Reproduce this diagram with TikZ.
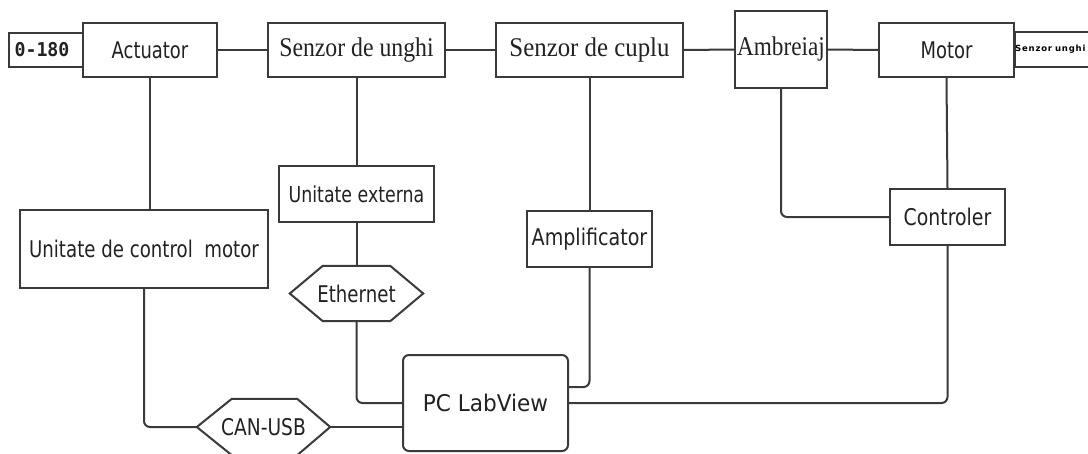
\documentclass[tikz,border=0pt]{standalone}
\usepackage{fontspec}
\usepackage{graphicx}
\newfontfamily\sansf{DejaVu Sans}
\newfontfamily\seriff{Liberation Serif}
\newfontfamily\monof{DejaVu Sans Mono}
\definecolor{lc}{HTML}{3A3A3A}
\definecolor{tc}{HTML}{222222}
\newcommand{\slab}[2]{{\sansf\fontsize{23pt}{26pt}\selectfont\scalebox{#1}[1]{#2}}}
\newcommand{\serlab}[2]{{\seriff\fontsize{27pt}{30pt}\selectfont\scalebox{#1}[1]{#2}}}
\begin{document}
\begin{tikzpicture}[x=1pt,y=-1pt,
  box/.style={draw=lc, line width=2pt, fill=white, inner sep=0pt, text=tc, align=center},
  hexbase/.style={draw=none, inner sep=0pt, text=tc},
  wire/.style={draw=lc, line width=2pt, rounded corners=6pt}]
\fill[white] (0,0) rectangle (1088,453);
\clip (0,0) rectangle (1088,453);

% top row
\node[box, minimum width=74pt, minimum height=34pt] (r0180) at (46,50)
  {\hspace*{-8pt}{\monof\bfseries\fontsize{19pt}{22pt}\selectfont\scalebox{0.96}[1]{0-180}}};
\node[box, minimum width=134pt, minimum height=54pt] (act) at (150,50) {\slab{0.78}{Actuator}};
\node[box, minimum width=177pt, minimum height=54pt] (sunghi) at (356.5,50) {\serlab{0.88}{Senzor de unghi}};
\node[box, minimum width=187pt, minimum height=54pt] (scuplu) at (589.5,50) {\serlab{0.92}{Senzor de cuplu}};
\node[box, minimum width=92pt, minimum height=77pt] (ambr) at (781,49.5) {\serlab{0.86}{Ambreiaj}};
\node[box, minimum width=86pt, minimum height=35pt, anchor=west] (su) at (1014,49.5) {};
\node[anchor=west, inner sep=0pt, text=black] (sutext) at (1015,49.5)
  {\sansf\bfseries\fontsize{8.5pt}{10pt}\selectfont S\kern0.8pt e\kern0.8pt n\kern0.8pt z\kern0.8pt o\kern0.8pt r\ u\kern0.8pt n\kern0.8pt g\kern0.8pt h\kern0.8pt i};
\node[box, minimum width=135pt, minimum height=54pt] (motor) at (946.5,50) {\slab{0.78}{Motor}};

% middle row
\node[box, minimum width=248pt, minimum height=78pt] (ucm) at (144,249) {\slab{0.79}{Unitate de control\ \ motor}};
\node[box, minimum width=155pt, minimum height=56pt] (uext) at (356.5,194)
  {{\sansf\fontsize{22pt}{25pt}\selectfont\scalebox{0.79}[1]{Unitate externa}}};
\node[box, minimum width=125pt, minimum height=56pt] (ampl) at (589.5,239) {\slab{0.83}{Amplificator}};
\node[box, minimum width=115pt, minimum height=56pt] (ctrl) at (947.5,217) {\slab{0.82}{Controler}};

% hexagons
\node[hexbase, minimum width=133pt, minimum height=55pt] (eth) at (356.5,293.5) {};
\draw[lc, line width=2pt, fill=white] (eth.west) -- ([xshift=33pt]eth.north west) -- ([xshift=-33pt]eth.north east)
  -- (eth.east) -- ([xshift=-33pt]eth.south east) -- ([xshift=33pt]eth.south west) -- cycle;
\node[hexbase] (ethtext) at (eth.center) {\slab{0.79}{Ethernet}};

\node[hexbase, minimum width=133pt, minimum height=56pt] (can) at (263.5,427) {};
\draw[lc, line width=2pt, fill=white] (can.west) -- ([xshift=35pt]can.north west) -- ([xshift=-33pt]can.north east)
  -- (can.east) -- ([xshift=-33pt]can.south east) -- ([xshift=35pt]can.south west) -- cycle;
\node[hexbase] (cantext) at (can.center) {\slab{0.81}{CAN-USB}};

% PC
\node[box, rounded corners=6pt, minimum width=165pt, minimum height=96pt] (pc) at (485.5,403) {\slab{0.94}{PC LabView}};

% connectors
\draw[wire] (act.east) -- (sunghi.west);
\draw[wire] (sunghi.east) -- (scuplu.west);
\draw[wire] (scuplu.east) -- (ambr.west);
\draw[wire] (ambr.east) -- (motor.west);
\draw[wire] (act.south) -- (act.south |- ucm.north);
\draw[wire] (sunghi.south) -- (uext.north);
\draw[wire] (uext.south) -- (eth.north);
\draw[wire] (scuplu.south) -- (ampl.north);
\draw[wire] (motor.south) -- (ctrl.north);
\draw[wire] (ambr.south) |- (ctrl.west);
\draw[wire] (ucm.south) |- (can.west);
\draw[wire] (can.east) -- (can.east -| pc.west);
\draw[wire] (eth.south) |- (pc.west);
\draw[wire] (ampl.south) |- ([yshift=16pt]pc.east);
\draw[wire] (ctrl.south) |- (pc.east);
\end{tikzpicture}
\end{document}
